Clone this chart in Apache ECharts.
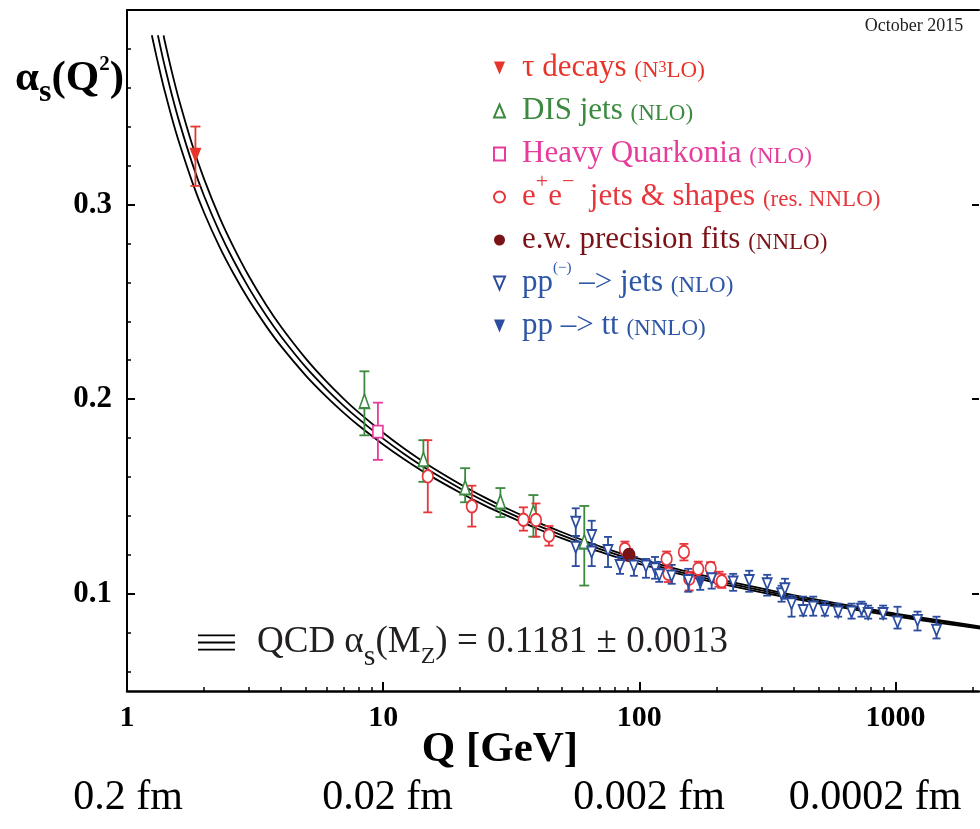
<!DOCTYPE html>
<html><head><meta charset="utf-8">
<script src="https://cdn.jsdelivr.net/npm/echarts@6/dist/echarts.min.js"></script>
<style>html,body{margin:0;padding:0;background:#fff}#c{width:980px;height:829px}</style>
</head><body><div id="c"></div>
<script>
// ---------------- data ----------------
const xMajorTicks = [1, 10, 100, 1000];
const xMinorTicks = [2,3,4,5,6,7,8,9,20,30,40,50,60,70,80,90,200,300,400,500,600,700,800,900,2000];
const yMajorTicks = [0.1, 0.2, 0.3];
const yMinorTicks = [0.06,0.08,0.12,0.14,0.16,0.18,0.22,0.24,0.26,0.28,0.32,0.34,0.36,0.38];
const fmLabels = ['0.2 fm', '0.02 fm', '0.002 fm', '0.0002 fm'];

// QCD running coupling curve (central, upper, lower)
const centralQ = [1.32,1.37,1.4,1.5,1.6,1.8,2,2.3,2.6,3,3.5,4,5,6,7,8,10,12,15,20,25,30,40,50,60,70,91.19,120,150,200,300,400,500,700,1000,1500,2200];
const centralA = [0.387,0.3772,0.3718,0.3559,0.3425,0.3209,0.3044,0.2857,0.2715,0.2568,0.2428,0.2321,0.2163,0.2052,0.1967,0.1900,0.1797,0.1721,0.1637,0.1541,0.1474,0.1423,0.1351,0.1300,0.1261,0.1230,0.1181,0.1139,0.1106,0.1067,0.1017,0.0984,0.0959,0.0925,0.0891,0.0856,0.0824];
const upperQ = [1.39,1.4,1.5,1.6,1.8,2,2.3,2.6,3,3.5,4,5,6,7,8,10,12,15,20,25,30,40,50,60,70,91.19,120,150,200,300,400,500,700,1000,1500,2200];
const upperA = [0.387,0.3847,0.3677,0.3534,0.3305,0.3131,0.2933,0.2784,0.2629,0.2483,0.2371,0.2207,0.2091,0.2003,0.1933,0.1827,0.1749,0.1662,0.1563,0.1494,0.1442,0.1368,0.1316,0.1276,0.1244,0.1194,0.1151,0.1117,0.1078,0.1027,0.0993,0.0968,0.0933,0.0898,0.0863,0.0830];
const lowerQ = [1.25,1.3,1.37,1.4,1.5,1.6,1.8,2,2.3,2.6,3,3.5,4,5,6,7,8,10,12,15,20,25,30,40,50,60,70,91.19,120,150,200,300,400,500,700,1000,1500,2200];
const lowerA = [0.387,0.3768,0.3639,0.3589,0.3441,0.3316,0.3114,0.2958,0.2781,0.2647,0.2507,0.2374,0.2271,0.2120,0.2013,0.1931,0.1866,0.1767,0.1694,0.1612,0.1519,0.1453,0.1405,0.1334,0.1284,0.1246,0.1216,0.1168,0.1127,0.1095,0.1056,0.1007,0.0975,0.0950,0.0917,0.0884,0.0849,0.0818];

// measurements: Q [GeV], alpha_s, lower and upper end of error bar
const tauQ = [1.85], tauA = [0.3253], tauLo = [0.3096], tauHi = [0.3401];
const disQ = [8.45,14.36,20.9,28.7,38.6,61.0];
const disA = [0.1990,0.1691,0.1546,0.1473,0.1418,0.1268];
const disLo = [0.1814,0.1575,0.1470,0.1394,0.1293,0.1042];
const disHi = [0.2143,0.1789,0.1645,0.1543,0.1507,0.1451];
const hqQ = [9.54], hqA = [0.1833], hqLo = [0.1688], hqHi = [0.1982];
const eeQ = [14.94,22.2,35.3,39.5,44.4,87.9,127.9,130,149.4,156.7,169.9,190,205,210];
const eeA = [0.1603,0.1449,0.1380,0.1379,0.1299,0.1230,0.1179,0.1102,0.1214,0.1077,0.1128,0.1132,0.1073,0.1064];
const eeLo = [0.1418,0.1345,0.1324,0.1293,0.1247,0.1171,0.1119,0.1060,0.1171,0.1017,0.1086,0.1102,0.1036,0.1030];
const eeHi = [0.1789,0.1555,0.1444,0.1464,0.1348,0.1268,0.1217,0.1137,0.1256,0.1113,0.1165,0.1162,0.1113,0.1100];
const ewQ = [91.19], ewA = [0.1200], ewLo = [0.1172], ewHi = [0.1228];
const ppQ = [56.5,56.5,65.2,65.2,75.5,84.1,95.3,106.2,115.2,119.7,133.8,155.3,191.7,232.6,268.7,315.8,359.4,370.3,393.2,436.4,477.5,530.4,597.6,674.3,737.6,782.6,895.4,1019,1220,1447];
const ppA = [0.1367,0.1239,0.1299,0.1214,0.1222,0.1145,0.1142,0.1142,0.1128,0.1097,0.1091,0.1068,0.1077,0.1060,0.1068,0.1051,0.1000,0.1026,0.0949,0.0914,0.0932,0.0914,0.0906,0.0906,0.0920,0.0898,0.0898,0.0855,0.0863,0.0812];
const ppLo = [0.1297,0.1142,0.1220,0.1142,0.1137,0.1102,0.1092,0.1082,0.1077,0.1061,0.1051,0.1010,0.1026,0.1015,0.1010,0.0990,0.0959,0.0974,0.0882,0.0887,0.0887,0.0887,0.0882,0.0872,0.0882,0.0872,0.0872,0.0821,0.0811,0.0770];
const ppHi = [0.1439,0.1297,0.1375,0.1256,0.1292,0.1189,0.1189,0.1179,0.1189,0.1164,0.1148,0.1128,0.1113,0.1102,0.1118,0.1097,0.1041,0.1077,0.0990,0.0985,0.0985,0.0959,0.0949,0.0949,0.0959,0.0939,0.0939,0.0933,0.0908,0.0882];
const ttQ = [173], ttA = [0.1051], ttLo = [0.1020], ttHi = [0.1085];

// ---------------- styling / construction ----------------
const SERIF = "'Liberation Serif','Times New Roman',Times,serif";
const C = {
  tau: '#e8352b', dis: '#3b8a3f', hq: '#e63c9b', ee: '#e8353b', ew: '#7a1317', pp: '#2c4c9f', txtBlue: '#2e56a6'
};
const NAMES = {
  tau: 'τ decays (N³LO)', dis: 'DIS jets (NLO)', hq: 'Heavy Quarkonia (NLO)',
  ee: 'e⁺e⁻ jets & shapes (res. NNLO)', ew: 'e.w. precision fits (NNLO)',
  pp: 'pp̄ –> jets (NLO)', tt: 'pp –> tt (NNLO)'
};
const QCD_NAME = 'QCD αs(MZ) = 0.1181 ± 0.0013';
const DOWN_TRI = 'path://M0 0H12L6 14Z';

// every row ends with a blank raised token so that all rows get the same height
const legendText = {};
legendText[NAMES.tau] = '{tauB|τ decays }{tauS|(N}{tauP|3}{tauS|LO)}{tauQ| }';
legendText[NAMES.dis] = '{disB|DIS jets }{disS|(NLO)}{disQ| }';
legendText[NAMES.hq]  = '{hqB|Heavy Quarkonia }{hqS|(NLO)}{hqQ| }';
legendText[NAMES.ee]  = '{eeB|e}{eeQ|+}{eeB|e}{eeQ|−}{eeB|  jets & shapes }{eeS|(res. NNLO)}{eeQ| }';
legendText[NAMES.ew]  = '{ewB|e.w. precision fits }{ewS|(NNLO)}{ewQ| }';
legendText[NAMES.pp]  = '{ppB|pp}{ppO|(−)}{ppB| –> jets }{ppS|(NLO)}{ppQ| }';
legendText[NAMES.tt]  = '{ppB|pp –> tt }{ppS|(NNLO)}{ppQ| }';
legendText[QCD_NAME]  = '{q|QCD α}{qs|s}{q|(M}{qz|Z}{q|) = 0.1181 ± 0.0013}';

const legendColors = {tau: C.tau, dis: C.dis, hq: C.hq, ee: C.ee, ew: C.ew, pp: C.txtBlue};
const rich = {};
Object.keys(legendColors).forEach(k => {
  const col = legendColors[k];
  rich[k + 'B'] = {fontFamily: SERIF, fontSize: 31, color: col};
  rich[k + 'S'] = {fontFamily: SERIF, fontSize: 23, verticalAlign: 'bottom', height: 25, color: col};
  rich[k + 'P'] = {fontFamily: SERIF, fontSize: 16, color: col};
  rich[k + 'Q'] = {fontFamily: SERIF, fontSize: 22, verticalAlign: 'top', height: 1, color: col};
  rich[k + 'O'] = {fontFamily: SERIF, fontSize: 15, verticalAlign: 'top', height: 2, color: col};
});
const qcdRich = {
  q: {fontFamily: SERIF, fontSize: 37, color: '#231f20'},
  qs: {fontFamily: SERIF, fontSize: 30, verticalAlign: 'bottom', height: 8, color: '#231f20'},
  qz: {fontFamily: SERIF, fontSize: 24, verticalAlign: 'bottom', height: 8, color: '#231f20'}
};

function pairs(Q, A) { return Q.map((q, i) => [q, A[i]]); }

function errSeries(id, Q, lo, hi, color, cap) {
  return {
    type: 'custom', id: id + '_err', xAxisIndex: 0, yAxisIndex: 0, z: 3, silent: true,
    data: Q.map((q, i) => [q, lo[i], hi[i]]),
    encode: {x: 0, y: [1, 2]},
    renderItem: function (params, api) {
      const q = api.value(0);
      const pLo = api.coord([q, api.value(1)]);
      const pHi = api.coord([q, api.value(2)]);
      const st = {stroke: color, lineWidth: 1.8, fill: null};
      return {type: 'group', children: [
        {type: 'line', shape: {x1: pLo[0], y1: pLo[1], x2: pHi[0], y2: pHi[1]}, style: st},
        {type: 'line', shape: {x1: pHi[0] - cap, y1: pHi[1], x2: pHi[0] + cap, y2: pHi[1]}, style: st},
        {type: 'line', shape: {x1: pLo[0] - cap, y1: pLo[1], x2: pLo[0] + cap, y2: pLo[1]}, style: st}
      ]};
    }
  };
}
function markSeries(name, Q, A, symbol, size, rot, color, hollow) {
  return {
    type: 'scatter', name: name, xAxisIndex: 0, yAxisIndex: 0, z: 4, silent: true,
    symbol: symbol, symbolSize: size, symbolRotate: rot,
    data: pairs(Q, A),
    itemStyle: hollow ? {color: '#ffffff', borderColor: color, borderWidth: 1.8, opacity: 1}
                      : {color: color, borderWidth: 0, opacity: 1},
    emphasis: {disabled: true}
  };
}
function curve(name, Q, A) {
  return {
    type: 'line', name: name, xAxisIndex: 0, yAxisIndex: 0, z: 2, silent: true,
    data: pairs(Q, A), symbol: 'none', showSymbol: false, smooth: 0.3, clip: true,
    lineStyle: {color: '#000', width: 1.8}, itemStyle: {color: '#000'}
  };
}

const xBase = {type: 'log', logBase: 10, min: 1, max: 2120, gridIndex: 0, splitLine: {show: false}, minorSplitLine: {show: false}};
const yBase = {type: 'value', min: 0.05, max: 0.40, gridIndex: 0, splitLine: {show: false}, scale: false};

const option = {
  animation: false,
  backgroundColor: '#ffffff',
  grid: {left: 127, right: 1, top: 10, bottom: 138, containLabel: false, outerBoundsMode: 'none'},
  xAxis: [
    Object.assign({}, xBase, {
      position: 'bottom',
      axisLine: {show: true, lineStyle: {color: '#000', width: 2.5}},
      axisTick: {show: true, inside: true, length: 9, lineStyle: {color: '#000', width: 2}, customValues: xMajorTicks},
      axisLabel: {show: true, customValues: xMajorTicks, formatter: v => String(v), fontFamily: SERIF, fontWeight: 'bold', fontSize: 30, color: '#000', margin: 12}
    }),
    Object.assign({}, xBase, {
      position: 'bottom',
      axisLine: {show: false},
      axisTick: {show: true, inside: true, length: 4, lineStyle: {color: '#000', width: 1.5}, customValues: xMinorTicks},
      axisLabel: {show: false}
    }),
    Object.assign({}, xBase, {
      position: 'top',
      axisLine: {show: true, lineStyle: {color: '#000', width: 2}},
      axisTick: {show: false}, axisLabel: {show: false}
    })
  ],
  yAxis: [
    Object.assign({}, yBase, {
      position: 'left',
      axisLine: {show: true, lineStyle: {color: '#000', width: 2}},
      axisTick: {show: true, inside: true, length: 8, lineStyle: {color: '#000', width: 2}, customValues: yMajorTicks},
      axisLabel: {show: true, customValues: yMajorTicks, formatter: v => v.toFixed(1), fontFamily: SERIF, fontWeight: 'bold', fontSize: 31, color: '#000', margin: 15}
    }),
    Object.assign({}, yBase, {
      position: 'left',
      axisLine: {show: false},
      axisTick: {show: true, inside: true, length: 4, lineStyle: {color: '#000', width: 1.5}, customValues: yMinorTicks},
      axisLabel: {show: false}
    }),
    Object.assign({}, yBase, {
      position: 'right',
      axisLine: {show: false},
      axisTick: {show: true, inside: true, length: 7, lineStyle: {color: '#000', width: 2}, customValues: yMajorTicks},
      axisLabel: {show: false}
    })
  ],
  legend: [
    {
      orient: 'vertical', left: 493, top: 42, itemWidth: 11, itemHeight: 13, itemGap: 1.5,
      selectedMode: false, padding: 0,
      data: [
        {name: NAMES.tau, icon: DOWN_TRI},
        {name: NAMES.dis},
        {name: NAMES.hq},
        {name: NAMES.ee},
        {name: NAMES.ew},
        {name: NAMES.pp, icon: DOWN_TRI},
        {name: NAMES.tt, icon: DOWN_TRI}
      ],
      formatter: name => legendText[name],
      textStyle: {fontFamily: SERIF, fontSize: 31, padding: [0, 0, 0, 12], rich: rich}
    },
    {
      orient: 'horizontal', left: 198, top: 624, itemWidth: 37, itemHeight: 16, selectedMode: false, padding: 0,
      itemStyle: {borderWidth: 0},
      data: [{name: QCD_NAME, icon: 'path://M0 0H37V1.8H0Z M0 7.1H37V8.9H0Z M0 14.2H37V16H0Z'}],
      formatter: name => legendText[name],
      textStyle: {fontFamily: SERIF, fontSize: 37, padding: [0, 0, 0, 17], rich: qcdRich}
    }
  ],
  series: [
    curve(QCD_NAME, centralQ, centralA),
    curve('upper', upperQ, upperA),
    curve('lower', lowerQ, lowerA),
    errSeries('tau', tauQ, tauLo, tauHi, C.tau, 5),
    errSeries('dis', disQ, disLo, disHi, C.dis, 5),
    errSeries('hq', hqQ, hqLo, hqHi, C.hq, 5),
    errSeries('ee', eeQ, eeLo, eeHi, C.ee, 4.5),
    errSeries('ew', ewQ, ewLo, ewHi, C.ew, 4),
    errSeries('pp', ppQ, ppLo, ppHi, C.pp, 4),
    errSeries('tt', ttQ, ttLo, ttHi, C.pp, 4),
    markSeries(NAMES.tau, tauQ, tauA, 'triangle', [12, 15], 180, C.tau, false),
    markSeries(NAMES.dis, disQ, disA, 'triangle', [10, 14], 0, C.dis, true),
    markSeries(NAMES.hq, hqQ, hqA, 'rect', [10, 12], 0, C.hq, true),
    markSeries(NAMES.ee, eeQ, eeA, 'circle', [10.5, 12.5], 0, C.ee, true),
    markSeries(NAMES.ew, ewQ, ewA, 'circle', [13, 14], 0, C.ew, false),
    markSeries(NAMES.pp, ppQ, ppA, 'triangle', [9, 11], 180, C.pp, true),
    markSeries(NAMES.tt, ttQ, ttA, 'triangle', [10, 12], 180, C.pp, false)
  ],
  graphic: [
    {type: 'text', x: 15, y: 78.5, silent: true,
     style: {text: '{a|α}{s|s}{a|(Q}{p|2}{a|)}', align: 'left', verticalAlign: 'middle', textAlign: 'left', textVerticalAlign: 'middle',
       rich: {
         a: {fontFamily: SERIF, fontWeight: 'bold', fontSize: 43, fill: '#000'},
         s: {fontFamily: SERIF, fontWeight: 'bold', fontSize: 32, verticalAlign: 'bottom', height: 14, fill: '#000'},
         p: {fontFamily: SERIF, fontWeight: 'bold', fontSize: 21, verticalAlign: 'top', height: 16, fill: '#000'}
       }}},
    {type: 'text', x: 914, y: 26, silent: true,
     style: {text: 'October 2015', fontFamily: SERIF, fontSize: 18, fill: '#222', align: 'center', verticalAlign: 'middle', textAlign: 'center', textVerticalAlign: 'middle'}},
    {type: 'text', x: 421.7, y: 750, silent: true,
     style: {text: 'Q [GeV]', fontFamily: SERIF, fontWeight: 'bold', fontSize: 43, fill: '#000', align: 'left', verticalAlign: 'middle', textAlign: 'left', textVerticalAlign: 'middle'}}
  ].concat(fmLabels.map((t, i) => ({
    type: 'text', x: [128, 387.5, 649, 875][i], y: 798, silent: true,
    style: {text: t, fontFamily: SERIF, fontSize: 42, fill: '#000', align: 'center', verticalAlign: 'middle', textAlign: 'center', textVerticalAlign: 'middle'}
  })))
};

const chart = echarts.init(document.getElementById('c'), null, {renderer: 'canvas'});
chart.setOption(option);
</script>
</body></html>
